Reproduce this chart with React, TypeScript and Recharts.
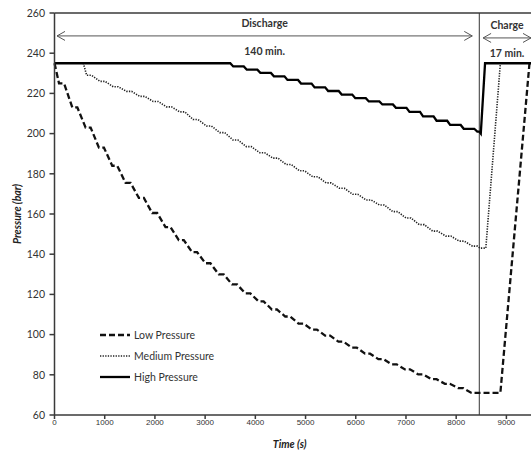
import { LineChart, Line, XAxis, YAxis, ReferenceLine, Legend } from "recharts";

// corners of the stair-stepped pressure curves (time in s, pressure in bar)
const lowTime = [
  0, 90, 190, 355, 455, 620, 720, 885, 985, 1150, 1250, 1415, 1515, 1680, 1780, 1945, 2045,
  2210, 2310, 2475, 2575, 2740, 2840, 3005, 3105, 3270, 3370, 3535, 3635, 3800, 3900, 4065,
  4165, 4330, 4430, 4595, 4695, 4860, 4960, 5125, 5225, 5390, 5490, 5655, 5755, 5920, 6020,
  6185, 6285, 6450, 6550, 6715, 6815, 6980, 7080, 7245, 7345, 7510, 7610, 7775, 7875, 8040,
  8140, 8305, 8880, 9460, 9490,
];
const lowPressure = [
  235, 225, 225, 213, 213, 203, 203, 193, 193, 184, 184, 175.5, 175.5, 168, 168, 160.5, 160.5,
  153.5, 153.5, 147, 147, 141, 141, 135.5, 135.5, 130, 130, 125, 125, 120.5, 120.5, 116.5,
  116.5, 112.5, 112.5, 109, 109, 105.5, 105.5, 102.5, 102.5, 99.5, 99.5, 96.5, 96.5, 93.5, 93.5,
  90.5, 90.5, 87.8, 87.8, 85.2, 85.2, 82.7, 82.7, 80.2, 80.2, 77.8, 77.8, 75.5, 75.5, 73.4,
  73.4, 71, 71, 235, 235,
];

const mediumTime = [
  0, 574, 640, 740, 905, 1005, 1170, 1270, 1435, 1535, 1700, 1800, 1965, 2065, 2230, 2330,
  2495, 2595, 2760, 2860, 3025, 3125, 3290, 3390, 3555, 3655, 3820, 3920, 4085, 4185, 4350,
  4450, 4615, 4715, 4880, 4980, 5145, 5245, 5410, 5510, 5675, 5775, 5940, 6040, 6205, 6305,
  6470, 6570, 6735, 6835, 7000, 7100, 7265, 7365, 7530, 7630, 7795, 7895, 8060, 8160, 8325,
  8425, 8476, 8590, 8880, 9490,
];
const mediumPressure = [
  235, 235, 229, 229, 226, 226, 223.3, 223.3, 221, 221, 218.5, 218.5, 216, 216, 213.3, 213.3,
  210.8, 210.8, 207, 207, 203.8, 203.8, 200.5, 200.5, 196.8, 196.8, 193.5, 193.5, 190.5, 190.5,
  187.8, 187.8, 184.6, 184.6, 181.5, 181.5, 178.5, 178.5, 175.5, 175.5, 172.8, 172.8, 169.8,
  169.8, 167, 167, 164.5, 164.5, 161.2, 161.2, 158, 158, 154.7, 154.7, 151.5, 151.5, 149, 149,
  146.5, 146.5, 144, 144, 143, 143, 235, 235,
];

const highTime = [
  0, 3500, 3560, 3770, 3830, 4040, 4100, 4310, 4370, 4580, 4640, 4850, 4910, 5120, 5180, 5390,
  5450, 5660, 5720, 5930, 5990, 6200, 6260, 6470, 6530, 6740, 6800, 7010, 7070, 7280, 7340,
  7550, 7610, 7820, 7880, 8090, 8150, 8360, 8420, 8460, 8490, 8575, 9490,
];
const highPressure = [
  235, 235, 233.4, 233.4, 231.8, 231.8, 230.2, 230.2, 228.5, 228.5, 226.7, 226.7, 224.9, 224.9,
  223, 223, 221.2, 221.2, 219.4, 219.4, 217.6, 217.6, 216, 216, 214.5, 214.5, 212.8, 212.8,
  210.8, 210.8, 208.6, 208.6, 206.4, 206.4, 204.3, 204.3, 202.4, 202.4, 201, 201, 200, 235, 235,
];

const xTicks = [0, 1000, 2000, 3000, 4000, 5000, 6000, 7000, 8000, 9000];
const yTicks = [60, 80, 100, 120, 140, 160, 180, 200, 220, 240, 260];
const xMinorTicks = Array.from({ length: 48 }, (_, i) => i * 200);
const yMinorTicks = Array.from({ length: 51 }, (_, i) => 60 + i * 4);

const phaseNames = ["Discharge", "Charge"];
const phaseDurations = ["140 min.", "17 min."];
const phaseStart = [50, 8536];
const phaseEnd = [8320, 9490];
const phaseLevel = [248.6, 247.6];
const switchTime = 8460;

const X_MAX = 9490;
const FONT = "Lato, Carlito, Calibri, sans-serif";
const AXIS = "#3a3a3a";

const toPoints = (times: number[], values: number[]) => times.map((t, i) => ({ t, p: values[i] }));

const series = [
  { name: "Low Pressure", data: toPoints(lowTime, lowPressure), stroke: "#111", width: 2.3, dash: "6 3" },
  { name: "Medium Pressure", data: toPoints(mediumTime, mediumPressure), stroke: "#222", width: 1.6, dash: "1.3 1.3" },
  { name: "High Pressure", data: toPoints(highTime, highPressure), stroke: "#000", width: 2.3, dash: undefined },
];

const PressureLegend = () => (
  <svg width={150} height={62}>
    {series.map((s, i) => (
      <g key={s.name} transform={`translate(0, ${10 + i * 21})`}>
        <line x1={0} x2={30} y1={0} y2={0} stroke={s.stroke} strokeWidth={s.width} strokeDasharray={s.dash} />
        <text x={34} y={0} dy="0.35em" fontSize={10.5} fill="#333" fontFamily={FONT}>
          {s.name}
        </text>
      </g>
    ))}
  </svg>
);

const PhaseArrow = (props: any) => {
  const { x1, y1, x2, name, duration } = props;
  const mid = (x1 + x2) / 2;
  const h = 4.5;
  const l = 8;
  return (
    <g>
      <line x1={x1} y1={y1} x2={x2} y2={y1} stroke="#555" strokeWidth={1} />
      <polyline points={`${x1 + l},${y1 - h} ${x1},${y1} ${x1 + l},${y1 + h}`} fill="none" stroke="#555" strokeWidth={1} />
      <polyline points={`${x2 - l},${y1 - h} ${x2},${y1} ${x2 - l},${y1 + h}`} fill="none" stroke="#555" strokeWidth={1} />
      <text x={mid} y={y1 - 12} textAnchor="middle" dominantBaseline="middle" fontSize={10.5} fontWeight="bold" fill="#333" fontFamily={FONT}>
        {name}
      </text>
      <text x={mid} y={y1 + 16} textAnchor="middle" dominantBaseline="middle" fontSize={10.5} fontWeight="bold" fill="#333" fontFamily={FONT}>
        {duration}
      </text>
    </g>
  );
};

export default function App() {
  return (
    <div style={{ position: "absolute", left: 0, top: 0 }}>
      <LineChart width={531} height={459} margin={{ top: 13, right: 0, bottom: 0, left: 0 }}>
        <XAxis
          type="number"
          dataKey="t"
          domain={[0, X_MAX]}
          ticks={xTicks}
          height={44}
          tickSize={4}
          tickMargin={0}
          stroke={AXIS}
          strokeWidth={1.5}
          tick={{ fontSize: 8, fill: "#333", fontFamily: "'Liberation Sans', Arial, sans-serif" }}
          label={{
            value: "Time (s)",
            position: "insideBottom",
            offset: 11,
            dx: -3,
            style: { fontSize: 10.5, fontWeight: "bold", fontStyle: "italic", fill: "#222", fontFamily: FONT },
          }}
        />
        <XAxis xAxisId="minor" type="number" dataKey="t" domain={[0, X_MAX]} ticks={xMinorTicks} mirror height={0} tickSize={3} axisLine={false} tick={false} stroke={AXIS} />
        <YAxis
          type="number"
          domain={[60, 260]}
          ticks={yTicks}
          width={54.5}
          tickSize={5}
          tickMargin={4.5}
          stroke={AXIS}
          strokeWidth={1.5}
          tick={{ fontSize: 10.5, fill: "#333", fontFamily: FONT }}
          label={{
            value: "Pressure (bar)",
            angle: -90,
            position: "insideLeft",
            offset: 17,
            style: { textAnchor: "middle", fontSize: 10.5, fontWeight: "bold", fontStyle: "italic", fill: "#222", fontFamily: FONT },
          }}
        />
        <YAxis yAxisId="minor" type="number" domain={[60, 260]} ticks={yMinorTicks} mirror width={0} tickSize={3} axisLine={false} tick={false} stroke={AXIS} />
        <ReferenceLine y={260} stroke={AXIS} strokeWidth={1.5} />
        <ReferenceLine x={switchTime} stroke="#333" strokeWidth={1} />
        {phaseNames.map((name, i) => (
          <ReferenceLine
            key={name}
            ifOverflow="visible"
            segment={[
              { x: phaseStart[i], y: phaseLevel[i] },
              { x: phaseEnd[i], y: phaseLevel[i] },
            ]}
            shape={(p: any) => <PhaseArrow {...p} name={name} duration={phaseDurations[i]} />}
          />
        ))}
        {series.map((s) => (
          <Line
            key={s.name}
            name={s.name}
            data={s.data}
            dataKey="p"
            type="linear"
            stroke={s.stroke}
            strokeWidth={s.width}
            strokeDasharray={s.dash}
            dot={false}
            activeDot={false}
            isAnimationActive={false}
          />
        ))}
        <Legend
          layout="vertical"
          align="center"
          verticalAlign="middle"
          wrapperStyle={{ left: 100, top: 325, width: 150 }}
          content={() => <PressureLegend />}
        />
      </LineChart>
    </div>
  );
}
